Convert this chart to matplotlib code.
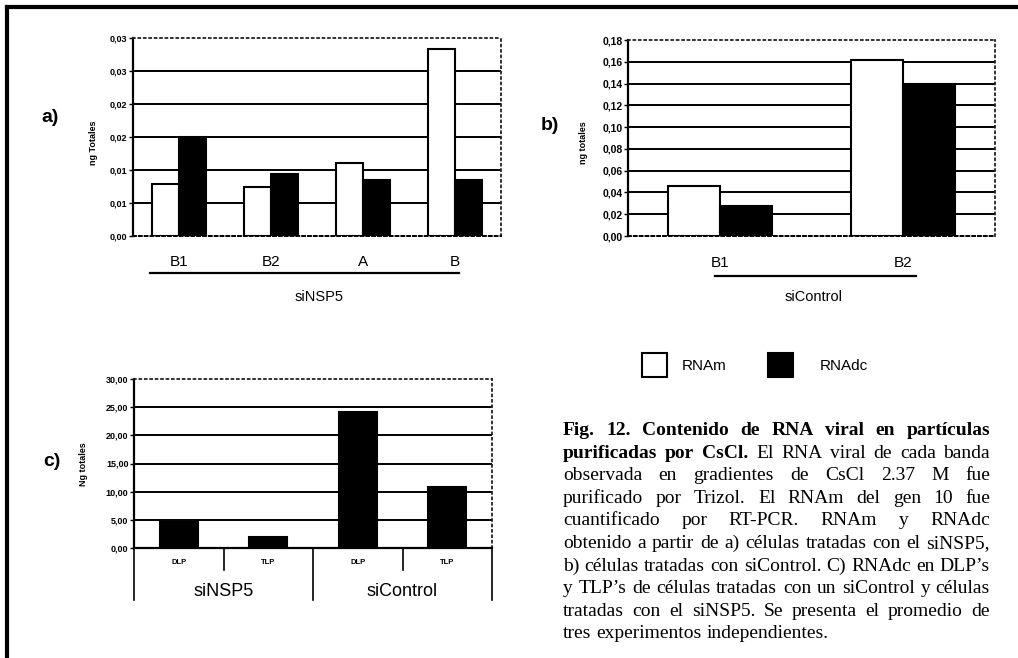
import numpy as np
import matplotlib
matplotlib.use('Agg')
import matplotlib.pyplot as plt
from matplotlib.patches import Rectangle
from matplotlib.lines import Line2D
from matplotlib.transforms import blended_transform_factory

W, H = 1018, 658

# panel a: siNSP5 bands
cats_a = ['B1', 'B2', 'A', 'B']
rnam_a = [0.0079, 0.0074, 0.0110, 0.0283]
rnadc_a = [0.0150, 0.0094, 0.0085, 0.0085]
ticks_a = [0, 0.005, 0.010, 0.015, 0.020, 0.025, 0.030]

# panel b: siControl bands
cats_b = ['B1', 'B2']
rnam_b = [0.046, 0.1615]
rnadc_b = [0.0278, 0.140]
ticks_b = [0, 0.02, 0.04, 0.06, 0.08, 0.10, 0.12, 0.14, 0.16, 0.18]

# panel c: RNAdc in DLP / TLP
cats_c = ['DLP', 'TLP', 'DLP', 'TLP']
groups_c = ['siNSP5', 'siControl']
rnadc_c = [4.7, 2.0, 24.1, 10.9]
ticks_c = [0, 5, 10, 15, 20, 25, 30]

caption = [
    'Fig. 12. Contenido de RNA viral en partículas',
    'purificadas por CsCl. El RNA viral de cada banda',
    'observada en gradientes de CsCl 2.37 M fue',
    'purificado por Trizol. El RNAm del gen 10 fue',
    'cuantificado por RT-PCR. RNAm y RNAdc',
    'obtenido a partir de a) células tratadas con el siNSP5,',
    'b) células tratadas con siControl. C) RNAdc en DLP’s',
    'y TLP’s de células tratadas con un siControl y células',
    'tratadas con el siNSP5. Se presenta el promedio de',
    'tres experimentos independientes.',
]
caption_bold = [8, 3, 0, 0, 0, 0, 0, 0, 0, 0]

plt.rcParams['font.family'] = ['Liberation Sans', 'DejaVu Sans']

fig = plt.figure(figsize=(W / 100, H / 100), dpi=100)


def box(l, t, r, b):
    return [l / W, 1 - b / H, (r - l) / W, (b - t) / H]


def fy(y):
    return 1 - y / H


def fmt2(v):
    return f'{v + 1e-9:.2f}'.replace('.', ',')


def frame(ax, ticks, size, bottom_solid=False):
    ax.set_ylim(ticks[0], ticks[-1])
    ax.set_yticks(ticks)
    ax.set_yticklabels([fmt2(t) for t in ticks], fontsize=size, fontweight='bold')
    ax.tick_params(axis='y', length=3, width=1, pad=1)
    ax.set_xticks([])
    for t in ticks[1:-1]:
        ax.axhline(t, color='black', lw=1.4, zorder=0)
    ax.spines['left'].set_linewidth(1.6)
    for s in ['top', 'right']:
        ax.spines[s].set_linestyle((0, (1, 2)))
        ax.spines[s].set_color('#222222')
        ax.spines[s].set_linewidth(1.3)
    if bottom_solid:
        ax.spines['bottom'].set_linewidth(1.6)
    else:
        ax.spines['bottom'].set_linestyle((0, (1.5, 1.5)))
        ax.spines['bottom'].set_linewidth(1.4)


# ---- a)
ax = fig.add_axes(box(133, 38, 501, 236))
x = np.arange(len(cats_a))
w = 0.29
ax.bar(x - w / 2, rnam_a, w, color='white', edgecolor='black', lw=1.5, zorder=2)
ax.bar(x + w / 2, rnadc_a, w, color='black', edgecolor='black', lw=1.5, zorder=2)
ax.set_xlim(-0.5, len(cats_a) - 0.5)
frame(ax, ticks_a, 6.5)
tr = blended_transform_factory(ax.transData, fig.transFigure)
for i, c in enumerate(cats_a):
    ax.text(i, fy(262), c, transform=tr, ha='center', va='center', fontsize=11)
fig.add_artist(Line2D([150 / W, 459 / W], [fy(273), fy(273)], color='black', lw=1.6))
fig.text(319 / W, fy(297), 'siNSP5', ha='center', va='center', fontsize=10.5)
fig.text(93 / W, fy(143), 'ng Totales', rotation=90, ha='center', va='center',
         fontsize=6.5, fontweight='bold')
fig.text(50 / W, fy(117), 'a)', ha='center', va='center', fontsize=14, fontweight='bold')

# ---- b)
ax = fig.add_axes(box(628, 40, 995, 236))
x = np.arange(len(cats_b))
w = 0.283
ax.bar(x - w / 2, rnam_b, w, color='white', edgecolor='black', lw=1.5, zorder=2)
ax.bar(x + w / 2, rnadc_b, w, color='black', edgecolor='black', lw=1.5, zorder=2)
ax.set_xlim(-0.5, len(cats_b) - 0.5)
frame(ax, ticks_b, 7.5)
tr = blended_transform_factory(ax.transData, fig.transFigure)
for i, c in enumerate(cats_b):
    ax.text(i, fy(263), c, transform=tr, ha='center', va='center', fontsize=11)
fig.add_artist(Line2D([715 / W, 916 / W], [fy(276), fy(276)], color='black', lw=1.6))
fig.text(814 / W, fy(297), 'siControl', ha='center', va='center', fontsize=10.5)
fig.text(583 / W, fy(143), 'ng totales', rotation=90, ha='center', va='center',
         fontsize=6.5, fontweight='bold')
fig.text(550 / W, fy(125), 'b)', ha='center', va='center', fontsize=14, fontweight='bold')

# ---- c)
ax = fig.add_axes(box(134, 379, 492, 548))
x = np.arange(len(cats_c))
ax.bar(x, rnadc_c, 0.42, color='black', edgecolor='black', lw=1.5, zorder=2)
ax.set_xlim(-0.5, len(cats_c) - 0.5)
frame(ax, ticks_c, 6.5, bottom_solid=True)
tr = blended_transform_factory(ax.transData, fig.transFigure)
for i, c in enumerate(cats_c):
    ax.text(i, fy(563), c, transform=tr, ha='center', va='center', fontsize=5.5,
            fontweight='bold')
for xs in [0.5, 2.5]:
    fig.add_artist(Line2D([xs, xs], [fy(548), fy(570)], transform=tr, color='black', lw=1.2))
for xs in [-0.5, 1.5, 3.5]:
    fig.add_artist(Line2D([xs, xs], [fy(548), fy(600)], transform=tr, color='black', lw=1.2))
for j, g in enumerate(groups_c):
    ax.text(2 * j + 0.5, fy(592), g, transform=tr, ha='center', va='center', fontsize=13)
fig.text(83 / W, fy(464), 'Ng totales', rotation=90, ha='center', va='center',
         fontsize=6.5, fontweight='bold')
fig.text(52 / W, fy(462), 'c)', ha='center', va='center', fontsize=14, fontweight='bold')

# ---- legend
fig.add_artist(Rectangle((642 / W, fy(377)), 25 / W, 24 / H, facecolor='white',
                         edgecolor='black', lw=1.5, transform=fig.transFigure))
fig.add_artist(Rectangle((768 / W, fy(377)), 25 / W, 24 / H, facecolor='black',
                         edgecolor='black', lw=1.5, transform=fig.transFigure))
fig.text(682 / W, fy(366), 'RNAm', ha='left', va='center', fontsize=11)
fig.text(820 / W, fy(366), 'RNAdc', ha='left', va='center', fontsize=11)

# ---- caption, justified
cap_size = 14
cap_left, cap_right = 563, 990
renderer = fig.canvas.get_renderer()


def word_w(s, bold):
    t = fig.text(0, 0, s, fontsize=cap_size, family='Liberation Serif',
                 fontweight='bold' if bold else 'normal')
    ww = t.get_window_extent(renderer).width
    t.remove()
    return ww


space = word_w('a a', False) - word_w('aa', False)
for i, line in enumerate(caption):
    words = line.split()
    bolds = [k < caption_bold[i] for k in range(len(words))]
    widths = [word_w(wd, b) for wd, b in zip(words, bolds)]
    if i < len(caption) - 1:
        gap = (cap_right - cap_left - sum(widths)) / (len(words) - 1)
    else:
        gap = space
    xp = cap_left
    yb = 435 + i * 22.6
    for wd, b, ww in zip(words, bolds, widths):
        fig.text(xp / W, fy(yb), wd, ha='left', va='baseline', fontsize=cap_size,
                 family='Liberation Serif', fontweight='bold' if b else 'normal')
        xp += ww + gap

# outer frame (top and left edges visible)
fig.add_artist(Line2D([7 / W, 1.0], [fy(7), fy(7)], color='black', lw=3))
fig.add_artist(Line2D([7 / W, 7 / W], [fy(7), 0.0], color='black', lw=3))

fig.savefig('out.png', dpi=100)
